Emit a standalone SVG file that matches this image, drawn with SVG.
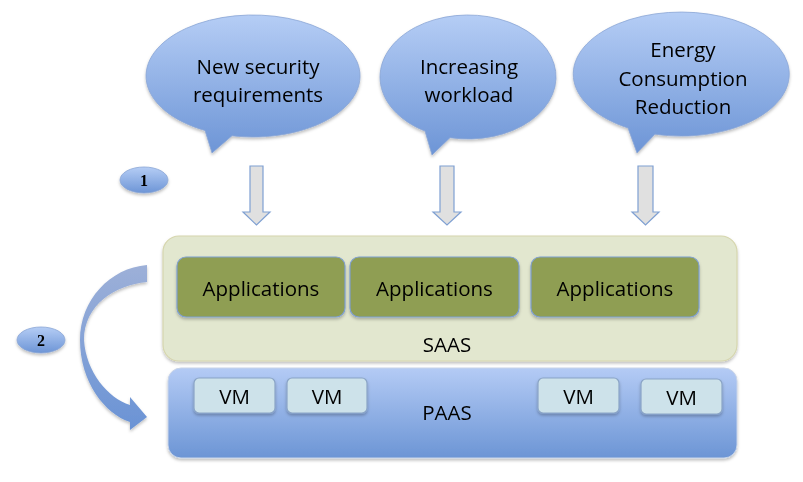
<svg xmlns="http://www.w3.org/2000/svg" width="803" height="482" viewBox="0 0 803 482">
<defs>
<linearGradient id="gBubble" x1="0" y1="0" x2="0" y2="1"><stop offset="0" stop-color="#b5cdf5"/><stop offset="1" stop-color="#6d95d6"/></linearGradient>
<linearGradient id="gPaas" x1="0" y1="0" x2="0" y2="1"><stop offset="0" stop-color="#b4cbf5"/><stop offset="1" stop-color="#6c95d5"/></linearGradient>
<linearGradient id="gCurve" x1="0" y1="0" x2="0" y2="1"><stop offset="0" stop-color="#9db0d8"/><stop offset="1" stop-color="#6a93d5"/></linearGradient>
<filter id="sh" x="-10%" y="-10%" width="120%" height="130%"><feDropShadow dx="0" dy="2" stdDeviation="1.5" flood-color="#000" flood-opacity="0.25"/></filter>
</defs>
<style>
.t{font-family:"Open Sans","Liberation Sans",sans-serif;fill:#000;text-anchor:middle}
.bt{font-size:20.5px}
.num{font-family:"Liberation Serif",serif;font-weight:bold;font-size:16px;text-anchor:middle;fill:#000}
.bubble{fill:url(#gBubble);stroke:#8aa6d6;stroke-width:0.8}
.dn{fill:#e0e0e0;stroke:#7fa0d2;stroke-width:1.2}
.app{fill:#8f9e52;stroke:#7f9fd0;stroke-width:1.2}
.vm{fill:#cde2ea;stroke:#8aa4c6;stroke-width:1.2}
</style>
<g id="bubble1" filter="url(#sh)">
<path class="bubble" d="M205,130.5 A107,61 0 1 1 232,135.8 L212,153 Z"/>
<text class="t bt" x="258" y="74">New security</text>
<text class="t bt" x="258" y="102">requirements</text>
</g>
<g id="bubble2" filter="url(#sh)">
<path class="bubble" d="M425,131.1 A88,62 0 1 1 450,137.7 L432,155 Z"/>
<text class="t bt" x="469" y="74">Increasing</text>
<text class="t bt" x="469" y="102">workload</text>
</g>
<g id="bubble3" filter="url(#sh)">
<path class="bubble" d="M628,128 A108,62 0 1 1 655,134.2 L637,153 Z"/>
<text class="t bt" x="683" y="57">Energy</text>
<text class="t bt" x="683" y="86">Consumption</text>
<text class="t bt" x="683" y="114">Reduction</text>
</g>
<g id="step1" filter="url(#sh)">
<ellipse cx="144" cy="180" rx="24" ry="13" class="bubble"/>
<text class="num" x="144" y="186">1</text>
</g>
<g id="step2" filter="url(#sh)">
<ellipse cx="41" cy="340" rx="24" ry="13" class="bubble"/>
<text class="num" x="41" y="346">2</text>
</g>
<g id="saas" filter="url(#sh)">
<rect x="163" y="236" width="574" height="125" rx="16" fill="#e2e7cf" stroke="#d6d6ae" stroke-width="1.2"/>
<text class="t bt" x="447" y="352">SAAS</text>
</g>
<g id="app1" filter="url(#sh)">
<rect class="app" x="177" y="257" width="168" height="60" rx="9"/>
<text class="t bt" x="261" y="296">Applications</text>
</g>
<g id="app2" filter="url(#sh)">
<rect class="app" x="350" y="257" width="169" height="60" rx="9"/>
<text class="t bt" x="434.5" y="296">Applications</text>
</g>
<g id="app3" filter="url(#sh)">
<rect class="app" x="531" y="257" width="168" height="60" rx="9"/>
<text class="t bt" x="615" y="296">Applications</text>
</g>
<g id="paas" filter="url(#sh)">
<rect x="168" y="368" width="569" height="90" rx="13" fill="url(#gPaas)" stroke="#c8d4e8" stroke-width="1"/>
<text class="t bt" x="447" y="420">PAAS</text>
</g>
<g id="vm1" filter="url(#sh)"><rect class="vm" x="194" y="378" width="81" height="35" rx="5"/><text class="t bt" x="234.5" y="404">VM</text></g>
<g id="vm2" filter="url(#sh)"><rect class="vm" x="287" y="378" width="80" height="35" rx="5"/><text class="t bt" x="327" y="404">VM</text></g>
<g id="vm3" filter="url(#sh)"><rect class="vm" x="538" y="378" width="81" height="35" rx="5"/><text class="t bt" x="578.5" y="404">VM</text></g>
<g id="vm4" filter="url(#sh)"><rect class="vm" x="641" y="379" width="81" height="35" rx="5"/><text class="t bt" x="681.5" y="405">VM</text></g>
<g id="connectors">
<path class="dn" d="M250,166 H263 V212 H270 L256.5,225 L243,212 H250 Z"/>
<path class="dn" d="M440,166 H454 V212 H461 L447,225 L433,212 H440 Z"/>
<path class="dn" d="M638,166 H653 V212 H659 L645.5,225 L632,212 H638 Z"/>
<path d="M147,265 C110,268 80,300 80,340 C80,382 105,414 130,422 L130,430 L147,417 L130,397 L130,405 C108,398 86,372 84,340 C84,305 115,285 147,282 Z" fill="url(#gCurve)" filter="url(#sh)"/>
</g>
</svg>
